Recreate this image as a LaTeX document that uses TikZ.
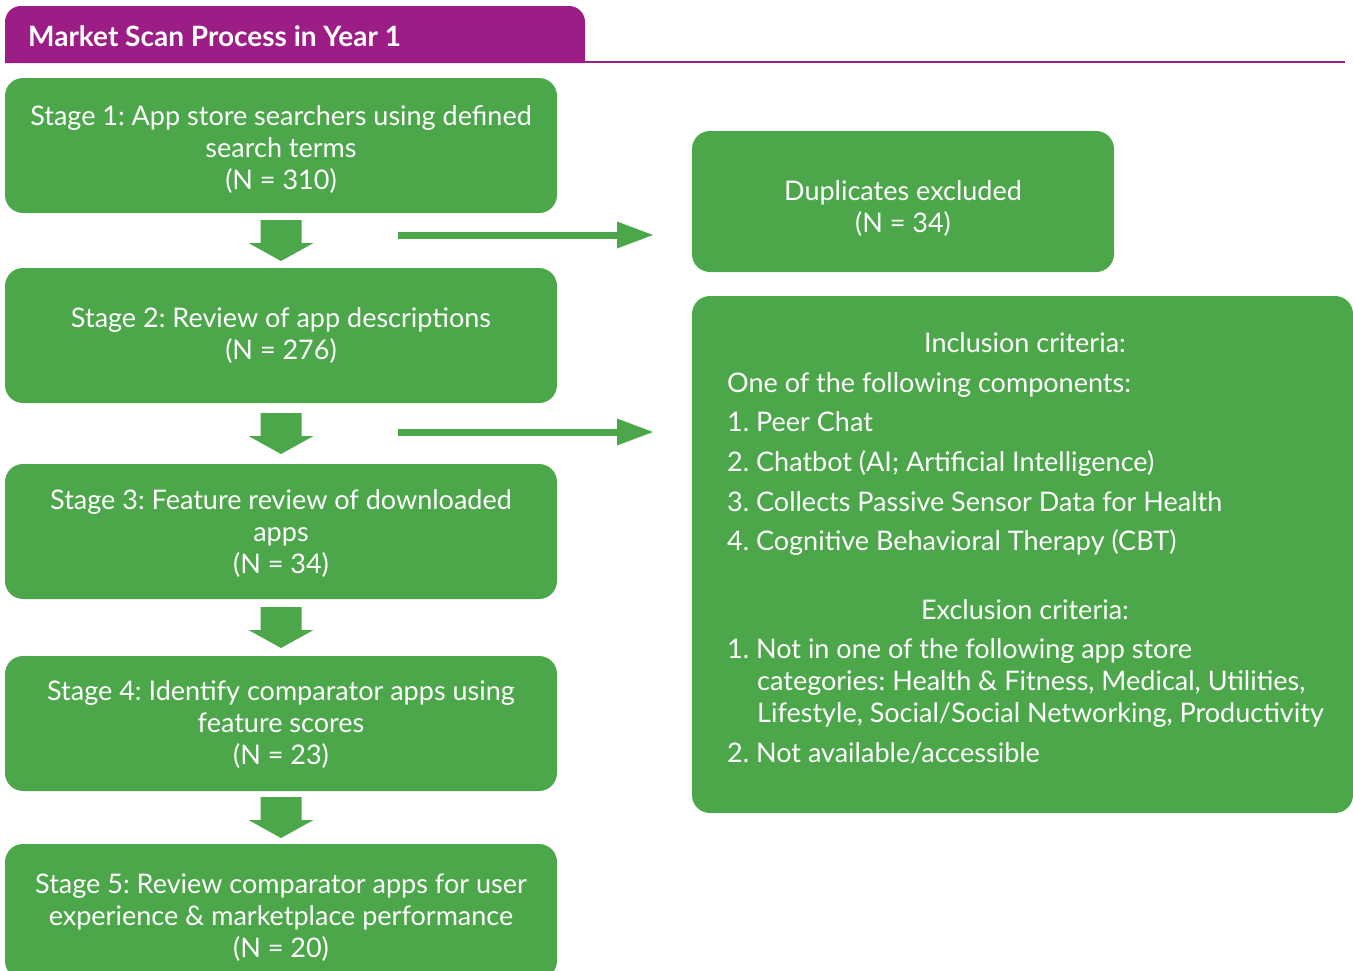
\documentclass[tikz,border=0pt]{standalone}
\usepackage{fontspec}
\setmainfont{Lato}
\frenchspacing
\usetikzlibrary{arrows.meta,calc}
\definecolor{scangreen}{RGB}{76,167,74}
\definecolor{scanpurple}{RGB}{156,29,134}
\begin{document}
\begin{tikzpicture}[x=1pt,y=-1pt,
  stagebox/.style={fill=scangreen, rounded corners=18pt, minimum width=552pt,
    minimum height=135pt, inner sep=0pt},
  sidebox/.style={fill=scangreen, rounded corners=18pt, inner sep=0pt},
  boxtext/.style={text=white, inner sep=0pt, font=\fontsize{27}{32}\selectfont},
  sidearrow/.style={draw=scangreen, line width=7pt,
    -{Triangle[length=36pt,width=27pt,line width=0pt]}},
  blockdown/.pic={\fill[scangreen] (-20.5,-20.5) -- (20.5,-20.5) -- (20.5,2.5)
    -- (32.5,2.5) -- (0,20.5) -- (-32.5,2.5) -- (-20.5,2.5) -- cycle;}]
\useasboundingbox (0,0) rectangle (1353,970);

% title tab and rule
\fill[scanpurple] (5,63) [rounded corners=16pt] -- (5,6) -- (585,6) [sharp corners] -- (585,63) -- cycle;
\draw[scanpurple, line width=1.2pt] (585,62) -- (1345,62);
\node[anchor=west, text=white, inner sep=0pt, font=\fontsize{28}{32}\selectfont\bfseries]
  (title) at (28,36) {Market Scan Process in Year 1};

% stages
\node[stagebox] (s1) at (281,145.5) {};
\node[stagebox] (s2) at (281,335.5) {};
\node[stagebox] (s3) at (281,531.5) {};
\node[stagebox] (s4) at (281,723.5) {};
\node[stagebox] (s5) at (281,911.5) {};
\node[boxtext, align=center] (s1t) at ($(s1.center)+(0,4)$) {Stage 1: App store searchers using defined\\search terms\\(N = 310)};
\node[boxtext, align=center] (s2t) at ($(s2.center)+(0,0)$) {Stage 2: Review of app descriptions\\(N = 276)};
\node[boxtext, align=center] (s3t) at ($(s3.center)+(0,2)$) {Stage 3: Feature review of downloaded\\apps\\(N = 34)};
\node[boxtext, align=center] (s4t) at ($(s4.center)+(0,1)$) {Stage 4: Identify comparator apps using\\feature scores\\(N = 23)};
\node[boxtext, align=center] (s5t) at ($(s5.center)+(0,6)$) {Stage 5: Review comparator apps for user\\experience \& marketplace performance\\(N = 20)};

\pic at ($(s1.south)!0.5!(s2.north)$) {blockdown};
\pic at ($(s2.south)!0.5!(s3.north)$) {blockdown};
\pic at ($(s3.south)!0.5!(s4.north)$) {blockdown};
\pic at ($(s4.south)!0.5!(s5.north)$) {blockdown};

% side boxes
\node[sidebox, minimum width=422pt, minimum height=141pt] (dup) at (903,201.5) {};
\node[boxtext, align=center] (duptext) at (903,209) {Duplicates excluded\\(N = 34)};

\node[sidebox, minimum width=661pt, minimum height=517pt] (crit) at (1022.5,554.5) {};
\node[boxtext, anchor=base] (inc) at (1025,352) {Inclusion criteria:};
\node[boxtext, anchor=base west] (inc0) at (727,392) {One of the following components:};
\node[boxtext, anchor=base west] (inc1) at (727,431) {1. Peer Chat};
\node[boxtext, anchor=base west] (inc2) at (727,471) {2. Chatbot (AI; Artificial Intelligence)};
\node[boxtext, anchor=base west] (inc3) at (727,511) {3. Collects Passive Sensor Data for Health};
\node[boxtext, anchor=base west] (inc4) at (727,550) {4. Cognitive Behavioral Therapy (CBT)};
\node[boxtext, anchor=base] (exc) at (1025,619) {Exclusion criteria:};
\node[boxtext, anchor=base west] (exc1) at (727,658) {1. Not in one of the following app store};
\node[boxtext, anchor=base west] (exc1b) at (757,690) {categories: Health \& Fitness, Medical, Utilities,};
\node[boxtext, anchor=base west] (exc1c) at (757,722) {Lifestyle, Social/Social Networking, Productivity};
\node[boxtext, anchor=base west] (exc2) at (727,762) {2. Not available/accessible};

% side arrows
\coordinate (a1s) at (398,235);
\coordinate (a1e) at (653,235);
\coordinate (a2s) at (398,432);
\coordinate (a2e) at (653,432);
\draw[sidearrow] (a1s) -- (a1e);
\draw[sidearrow] (a2s) -- (a2e);
\end{tikzpicture}
\end{document}
